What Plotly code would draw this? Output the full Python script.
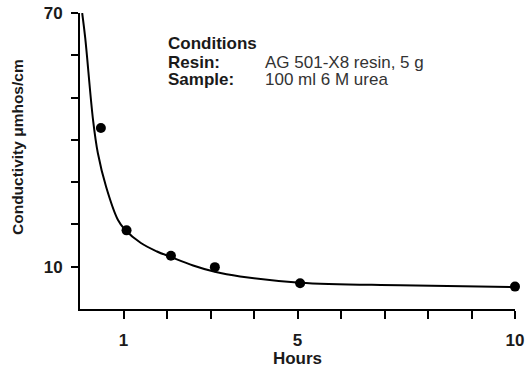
import plotly.graph_objects as go

# measured data points (hours, conductivity)
hours = [0.48, 1.07, 2.09, 3.10, 5.06, 10.0]
conductivity = [42.8, 18.6, 12.6, 9.9, 6.1, 5.3]

# fitted curve
curve_hours = [0.05, 0.12, 0.30, 0.41, 0.60, 0.87, 1.03, 1.40, 1.77, 2.09, 2.60, 3.10, 3.68, 5.06, 7.36, 10.0]
curve_cond = [70.0, 64.1, 44.7, 36.9, 28.9, 21.1, 18.8, 15.6, 13.6, 12.3, 10.3, 8.8, 7.7, 6.2, 5.6, 5.2]

x_ticks = [1, 2, 3, 4, 5, 6, 7, 8, 9, 10]
x_labels = ["1", "", "", "", "5", "", "", "", "", "10"]
y_ticks = [10, 20, 30, 40, 50, 60, 70]
y_labels = ["10", "", "", "", "", "", "70"]

FONT = "Liberation Sans, Arial, sans-serif"
INK = "#1a1a1a"

fig = go.Figure()
fig.add_trace(go.Scatter(x=curve_hours, y=curve_cond, mode="lines",
                         line=dict(color="black", width=2, shape="spline", smoothing=1.0),
                         hoverinfo="skip", showlegend=False))
fig.add_trace(go.Scatter(x=hours, y=conductivity, mode="markers",
                         marker=dict(color="black", size=10),
                         cliponaxis=False, showlegend=False))

fig.update_layout(
    width=525, height=368,
    margin=dict(l=80, r=10, t=13, b=59, autoexpand=False),
    paper_bgcolor="white", plot_bgcolor="white",
    font=dict(family=FONT, color=INK),
    xaxis=dict(range=[0, 10], tickvals=x_ticks, ticktext=x_labels, automargin=False,
               showgrid=False, zeroline=False, showline=True, linecolor="black", linewidth=2,
               ticks="outside", ticklen=8, tickwidth=2, tickcolor="black",
               tickfont=dict(family=FONT, size=17, color=INK, weight="bold"),
               ticklabelstandoff=7,
               title=dict(text="Hours", font=dict(family=FONT, size=17, color=INK, weight="bold"),
                          standoff=6)),
    yaxis=dict(range=[0, 70], tickvals=y_ticks, ticktext=y_labels, automargin=False,
               showgrid=False, zeroline=False, showline=True, linecolor="black", linewidth=2,
               ticks="outside", ticklen=7, tickwidth=2, tickcolor="black",
               tickfont=dict(family=FONT, size=17, color=INK, weight="bold"),
               ticklabelstandoff=5),
)

# convert window pixel positions to paper coordinates
def px_y(py):
    return (309.0 - py) / 296.0

def px_x(px):
    return (px - 80) / 435.0

fig.add_annotation(text="Conductivity μmhos/cm", textangle=-90, xref="paper", yref="paper",
                   x=px_x(17), y=px_y(147), xanchor="center", yanchor="middle", showarrow=False,
                   font=dict(family=FONT, size=15.5, color=INK, weight="bold"))

rows = [("Conditions", None, 43.5), ("Resin:", "AG 501-X8 resin, 5 g", 62.5), ("Sample:", "100 ml 6 M urea", 80)]
for label, value, py in rows:
    fig.add_annotation(text=label, xref="paper", yref="paper", x=px_x(166), y=px_y(py),
                       xanchor="left", yanchor="middle", showarrow=False,
                       font=dict(family=FONT, size=17, color=INK, weight="bold"))
    if value:
        fig.add_annotation(text=value, xref="paper", yref="paper", x=px_x(263), y=px_y(py),
                           xanchor="left", yanchor="middle", showarrow=False,
                           font=dict(family=FONT, size=17, color="#333333"))

fig.write_html("out.html", config={"displayModeBar": False},
               post_script="document.body.style.margin='0px';document.body.style.overflow='hidden';")
